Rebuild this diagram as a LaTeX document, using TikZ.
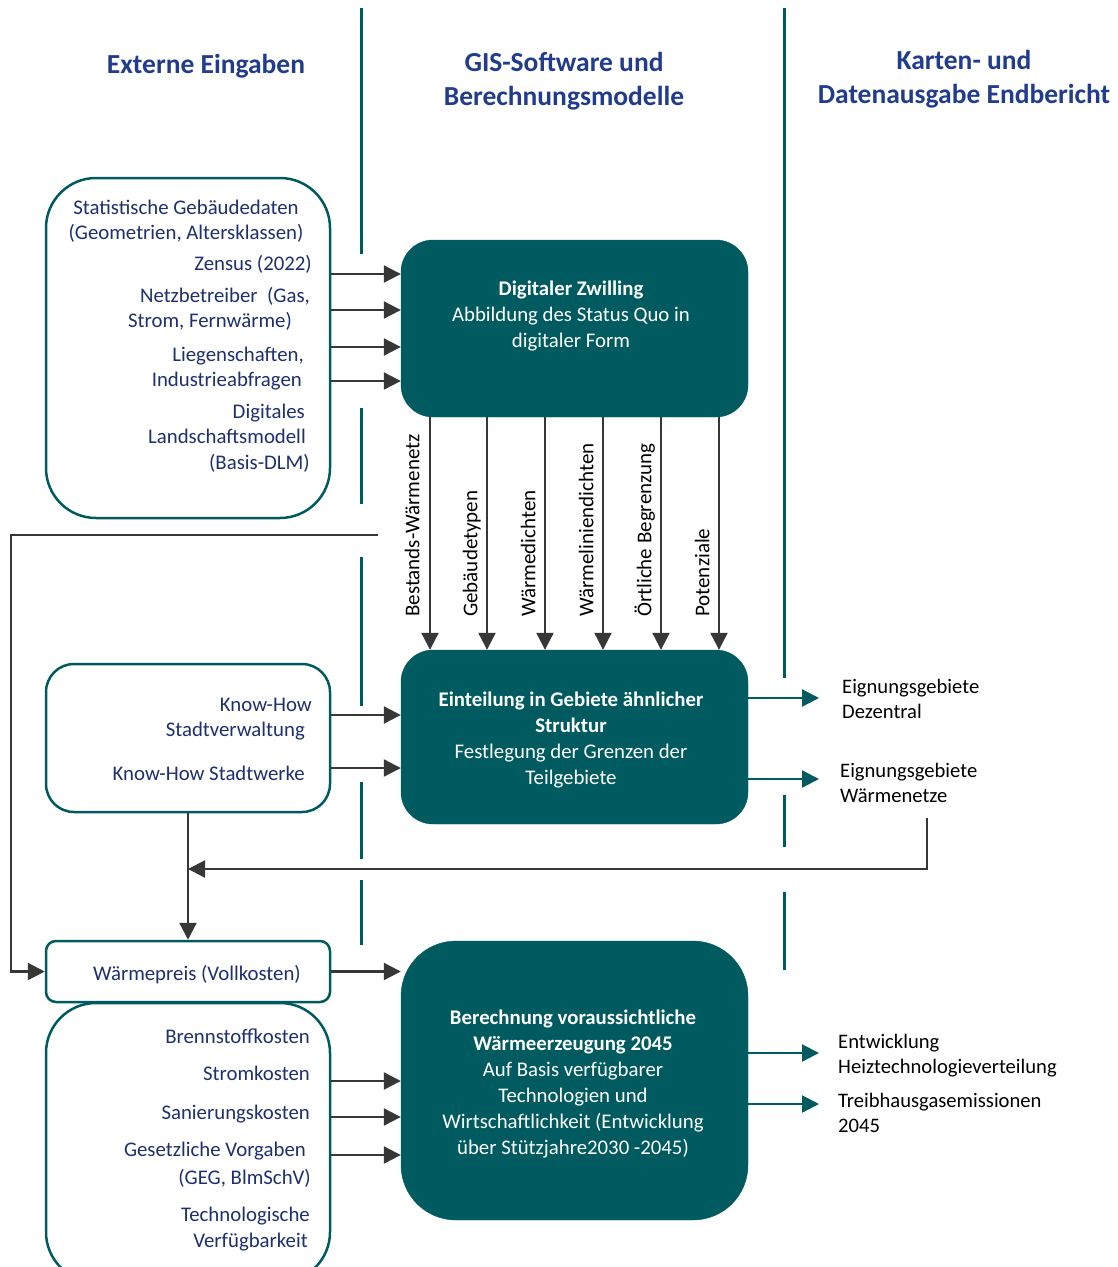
\documentclass[tikz,border=0pt]{standalone}
\usepackage{fontspec}
\setmainfont{Carlito}
\usetikzlibrary{arrows.meta}
\definecolor{tealc}{RGB}{0,91,96}
\definecolor{hdrc}{RGB}{33,60,140}
\definecolor{navyc}{RGB}{30,48,110}
\definecolor{arrc}{RGB}{55,55,55}
\tikzset{
  hdr/.style={font=\fontsize{27.5}{34}\selectfont\bfseries, text=hdrc, align=center, inner sep=0pt, yshift=-2pt},
  inbox/.style={draw=tealc, line width=2.5pt, fill=white, inner sep=0pt, minimum width=284pt},
  tealbox/.style={fill=tealc, draw=tealc, inner sep=0pt, minimum width=347pt},
  intext/.style={font=\fontsize{20.8}{25}\selectfont, text=navyc, inner sep=0pt, align=right, yshift=-4pt},
  wtext/.style={font=\fontsize{20.8}{26}\selectfont, text=white, inner sep=0pt, align=center, yshift=-2pt},
  outtext/.style={font=\fontsize{20.6}{25}\selectfont, text=black, inner sep=0pt, align=left, anchor=west},
  vlabel/.style={font=\fontsize{21}{25}\selectfont, text=black, inner sep=0pt, rotate=90, anchor=mid west},
  garrow/.style={draw=arrc, line width=2.2pt, -{Triangle[length=17pt,width=17pt]}},
  tarrow/.style={draw=tealc, line width=2.2pt, -{Triangle[length=17pt,width=17pt]}},
  divider/.style={draw=tealc, line width=3pt}
}
\begin{document}
\begin{tikzpicture}[x=1pt,y=-1pt]
\useasboundingbox (0,0) rectangle (1117,1267);
\fill[white] (0,0) rectangle (1117,1267);

% dividers
\draw[divider] (361,8) -- (361,254);
\draw[divider] (361,408) -- (361,504);
\draw[divider] (361,557) -- (361,706);
\draw[divider] (361,782) -- (361,859);
\draw[divider] (361,880) -- (361,945);
\draw[divider] (784,8) -- (784,678);
\draw[divider] (784,795) -- (784,847);
\draw[divider] (784,892) -- (784,970);

% headers
\node[hdr] (h1) at (206,64) {Externe Eingaben};
\node[hdr] (h2) at (564,79) {GIS-Software und\\Berechnungsmodelle};
\node[hdr] (h3) at (964,77) {Karten- und\\Datenausgabe Endbericht};

% left input boxes
\node[inbox, rounded corners=50pt, minimum height=340pt] (in1) at (188,348) {};
\node[inbox, rounded corners=28pt, minimum height=148pt] (kh) at (188,738) {};
\node[inbox, rounded corners=10pt, minimum height=61pt] (wp) at (188,971.5) {};
\begin{scope}
\clip (0,0) rectangle (1117,1267);
\node[inbox, rounded corners=50pt, minimum height=279pt] (in3) at (188,1142.5) {};
\end{scope}

% teal boxes
\node[tealbox, rounded corners=32pt, minimum height=177pt] (dz) at (574.5,328.5) {};
\node[tealbox, rounded corners=32pt, minimum height=174pt] (eg) at (574.5,737) {};
\node[tealbox, rounded corners=55pt, minimum height=279pt] (bw) at (574.5,1080.5) {};

% teal box texts
\node[wtext] (dzt) at (571,314) {\textbf{Digitaler Zwilling}\\Abbildung des Status Quo in\\digitaler Form};
\node[wtext] (egt) at (571,737.5) {\textbf{Einteilung in Gebiete ähnlicher}\\\textbf{Struktur}\\Festlegung der Grenzen der\\Teilgebiete};
\node[wtext] (bwt) at (573,1082) {\textbf{Berechnung voraussichtliche}\\\textbf{Wärmeerzeugung 2045}\\Auf Basis verfügbarer\\Technologien und\\Wirtschaftlichkeit (Entwicklung\\über Stützjahre2030 -2045)};

% input box 1 texts
\node[intext, align=center] (t1) at (186,217.5) {Statistische Gebäudedaten\\(Geometrien, Altersklassen)};
\node[intext, anchor=mid east] (t2) at (312,264) {Zensus (2022)};
\node[intext, anchor=mid east] (t3) at (310,296) {Netzbetreiber \ (Gas,};
\node[intext, anchor=mid east] (t4) at (292,321) {Strom, Fernwärme)};
\node[intext, anchor=mid east] (t5) at (304,355) {Liegenschaften,};
\node[intext, anchor=mid east] (t6) at (302,380) {Industrieabfragen};
\node[intext, anchor=mid east] (t7) at (305,412) {Digitales};
\node[intext, anchor=mid east] (t8) at (306,437) {Landschaftsmodell};
\node[intext, anchor=mid east] (t9) at (310,463) {(Basis-DLM)};

% know-how texts
\node[intext, anchor=mid east] (k1) at (312,705) {Know-How};
\node[intext, anchor=mid east] (k2) at (305,730) {Stadtverwaltung};
\node[intext, anchor=mid east] (k3) at (305,774) {Know-How Stadtwerke};

% Waermepreis text
\node[intext, anchor=mid] (w1) at (197,974) {Wärmepreis (Vollkosten)};

% bottom box texts
\node[intext, anchor=mid east] (b1) at (310,1037) {Brennstoffkosten};
\node[intext, anchor=mid east] (b2) at (310,1074) {Stromkosten};
\node[intext, anchor=mid east] (b3) at (310,1113) {Sanierungskosten};
\node[intext, anchor=mid east] (b4) at (306,1150) {Gesetzliche Vorgaben};
\node[intext, anchor=mid east] (b5) at (311,1178) {(GEG, BlmSchV)};
\node[intext, anchor=mid east] (b6) at (310,1215) {Technologische};
\node[intext, anchor=mid east] (b7) at (308,1241) {Verfügbarkeit};

% arrows into digital twin
\draw[garrow] (in1.east |- 0,274) -- (dz.west |- 0,274);
\draw[garrow] (in1.east |- 0,310) -- (dz.west |- 0,310);
\draw[garrow] (in1.east |- 0,347) -- (dz.west |- 0,347);
\draw[garrow] (in1.east |- 0,381) -- (dz.west |- 0,381);

% arrows down
\draw[garrow] (dz.south -| 430,0) -- (eg.north -| 430,0);
\draw[garrow] (dz.south -| 487,0) -- (eg.north -| 487,0);
\draw[garrow] (dz.south -| 545,0) -- (eg.north -| 545,0);
\draw[garrow] (dz.south -| 603,0) -- (eg.north -| 603,0);
\draw[garrow] (dz.south -| 661,0) -- (eg.north -| 661,0);
\draw[garrow] (dz.south -| 719,0) -- (eg.north -| 719,0);
\node[vlabel] (l1) at (417,617) {Bestands-Wärmenetz};
\node[vlabel] (l2) at (475,617) {Gebäudetypen};
\node[vlabel] (l3) at (533,617) {Wärmedichten};
\node[vlabel] (l4) at (591,617) {Wärmeliniendichten};
\node[vlabel] (l5) at (649,617) {Örtliche Begrenzung};
\node[vlabel] (l6) at (707,617) {Potenziale};

% know-how arrows
\draw[garrow] (kh.east |- 0,715) -- (eg.west |- 0,715);
\draw[garrow] (kh.east |- 0,768) -- (eg.west |- 0,768);

% outputs of teal 2
\node[outtext] (o1) at (842,699) {Eignungsgebiete\\Dezentral};
\node[outtext] (o2) at (840,783) {Eignungsgebiete\\Wärmenetze};
\coordinate (o1in) at (819,698);
\coordinate (o2in) at (819,779);
\draw[tarrow] (eg.east |- o1in) -- (o1in);
\draw[tarrow] (eg.east |- o2in) -- (o2in);

% feedback lines
\coordinate (fbs) at (927,818);
\coordinate (join) at (188,869);
\draw[garrow] (fbs) |- (join);
\draw[garrow] (kh.south) -- (wp.north);
\coordinate (fbl) at (378,535);
\draw[garrow] (fbl) -- (11,535) |- (wp.west);

% Waermepreis arrow
\draw[garrow] (wp.east) -- (bw.west |- wp.east);

% bottom box arrows
\draw[garrow] (in3.east |- 0,1081) -- (bw.west |- 0,1081);
\draw[garrow] (in3.east |- 0,1117) -- (bw.west |- 0,1117);
\draw[garrow] (in3.east |- 0,1155) -- (bw.west |- 0,1155);

% outputs of teal 3
\node[outtext] (o3) at (838,1055.5) {Entwicklung\\Heiztechnologieverteilung};
\node[outtext] (o4) at (838,1113) {Treibhausgasemissionen\\2045};
\coordinate (o3in) at (819,1053);
\coordinate (o4in) at (819,1104);
\draw[tarrow] (bw.east |- o3in) -- (o3in);
\draw[tarrow] (bw.east |- o4in) -- (o4in);
\end{tikzpicture}
\end{document}
